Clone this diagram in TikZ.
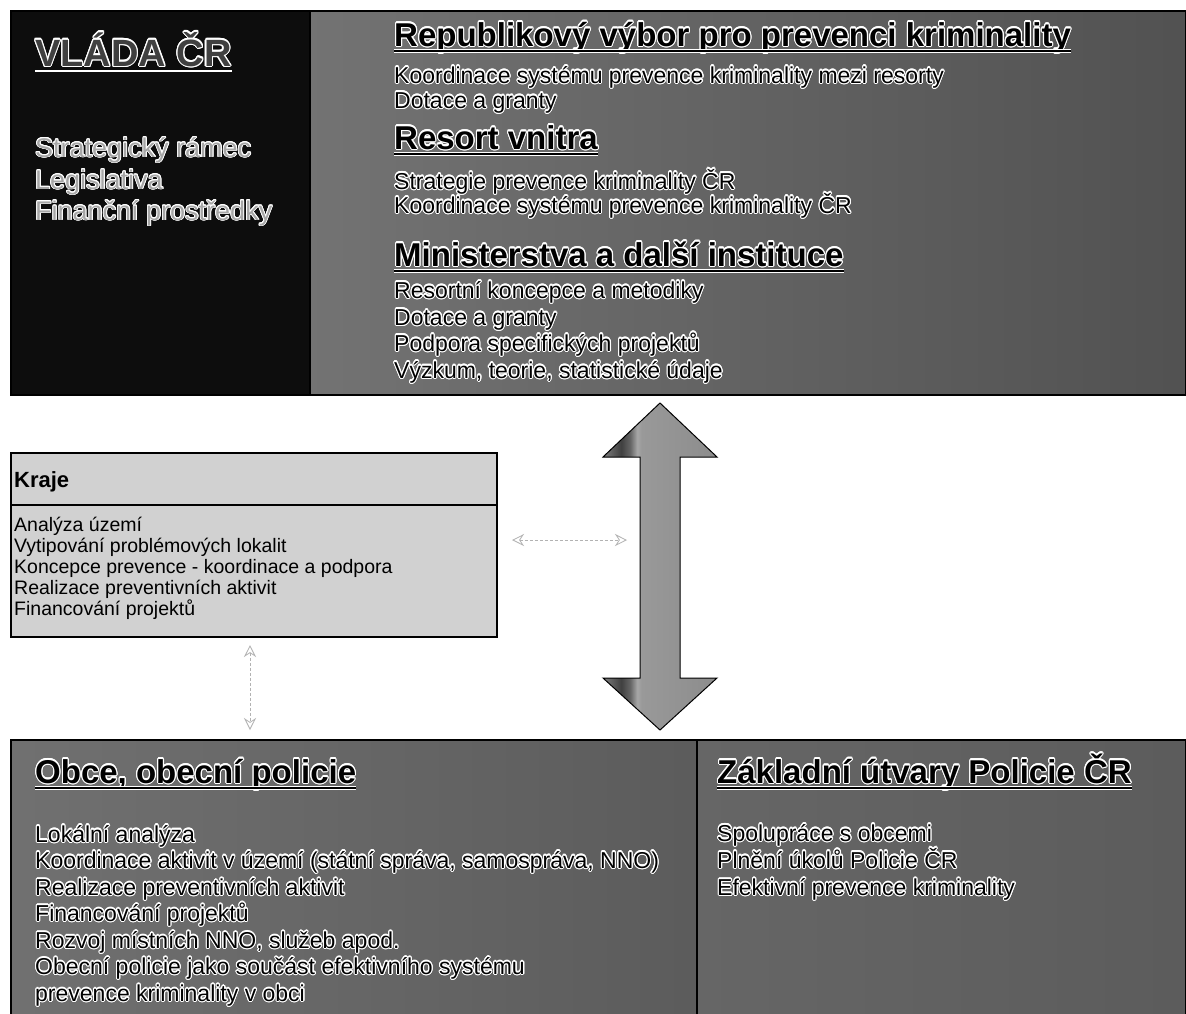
\documentclass[tikz,border=0pt]{standalone}
\usepackage{fontspec}
\setmainfont{Liberation Sans}
\usepackage{contour}
\contourlength{1.1pt}
\contournumber{16}
\usetikzlibrary{calc,arrows.meta}

\pgfdeclarehorizontalshading{bigarrowshade}{100bp}{color(0bp)=(black!50); color(25bp)=(black!50); color(33bp)=(black!75); color(37bp)=(black!60); color(40bp)=(black!35); color(42bp)=(black!40); color(75bp)=(black!45); color(100bp)=(black!45)}

\newcommand\halo[1]{\contour{white}{#1}}

\tikzset{
  panel/.style={draw=black, line width=1.5pt, inner sep=0pt, outer sep=0pt, anchor=north west},
  bandframe/.style={draw=black, line width=2.5pt, inner sep=0pt, outer sep=0pt, anchor=north west},
  headtxt/.style={anchor=base west, inner sep=0pt, font=\fontsize{33}{38}\selectfont\bfseries},
  itemtxt/.style={anchor=base west, inner sep=0pt, font=\fontsize{23}{26}\selectfont},
  lefttxt/.style={anchor=base west, inner sep=0pt, text=black!35, font=\fontsize{27}{31}\selectfont},
  krajetxt/.style={anchor=base west, inner sep=0pt, font=\fontsize{19.5}{22}\selectfont},
  ulhalo/.style={draw=white, line width=4.5pt},
  ulline/.style={draw=black, line width=2pt},
  faint/.style={draw=black!30, line width=0.8pt, dash pattern=on 3pt off 2pt,
    {Stealth[open,length=12pt,width=12pt]}-{Stealth[open,length=12pt,width=12pt]}},
  bigarrow/.style={draw=black, line width=1pt, shading=bigarrowshade}
}

\newcommand\ulnode[1]{%
  \draw[ulhalo] ([yshift=-5pt]#1.base west) -- ([yshift=-5pt]#1.base east);
  \draw[ulline] ([yshift=-5pt]#1.base west) -- ([yshift=-5pt]#1.base east);}

\begin{document}
\begin{tikzpicture}[x=1pt,y=-1pt]
\useasboundingbox (0,0) rectangle (1186,1013);
\fill[white] (0,0) rectangle (1186,1013);

% ---------- top band ----------
\node[panel, fill=black!95, minimum width=299pt, minimum height=384pt] (vlada) at (11,11) {};
\node[panel, left color=black!55, right color=black!68, minimum width=876pt, minimum height=384pt] (rvpk) at (310,11) {};

\node[headtxt, font=\fontsize{38}{42}\selectfont\bfseries, text=black!75] (vladat) at (35,66) {\contour{white}{VLÁDA ČR}};
\draw[draw=white, line width=2.5pt] ([yshift=-5pt]vladat.base west) -- ([yshift=-5pt]vladat.base east);
\node[lefttxt] (v1) at (35,157) {\contourlength{0.8pt}\contour{white}{Strategický rámec}};
\node[lefttxt] (v2) at (35,189) {\contourlength{0.8pt}\contour{white}{Legislativa}};
\node[lefttxt] (v3) at (35,220) {\contourlength{0.8pt}\contour{white}{Finanční prostředky}};

\node[headtxt] (r1) at (394,46) {\halo{Republikový výbor pro prevenci kriminality}};
\node[itemtxt] (r2) at (394,83) {\halo{Koordinace systému prevence kriminality mezi resorty}};
\node[itemtxt] (r3) at (394,108) {\halo{Dotace a granty}};
\node[headtxt] (r4) at (394,149) {\halo{Resort vnitra}};
\node[itemtxt] (r5) at (394,189) {\halo{Strategie prevence kriminality ČR}};
\node[itemtxt] (r6) at (394,213) {\halo{Koordinace systému prevence kriminality ČR}};
\node[headtxt] (r7) at (394,266) {\halo{Ministerstva a další instituce}};
\node[itemtxt] (r8) at (394,298) {\halo{Resortní koncepce a metodiky}};
\node[itemtxt] (r9) at (394,325) {\halo{Dotace a granty}};
\node[itemtxt] (r10) at (394,351) {\halo{Podpora specifických projektů}};
\node[itemtxt] (r11) at (394,378) {\halo{Výzkum, teorie, statistické údaje}};
\ulnode{r1}
\ulnode{r4}
\ulnode{r7}

% ---------- Kraje ----------
\node[panel, fill=black!18, minimum width=486pt, minimum height=184pt] (kraje) at (11,453) {};
\draw[black, line width=1.5pt] (kraje.west |- 0,505) -- (kraje.east |- 0,505);
\node[anchor=base west, inner sep=0pt, font=\fontsize{22}{26}\selectfont\bfseries] (krajet) at (14,487) {Kraje};
\node[krajetxt] (k1) at (14,531) {Analýza území};
\node[krajetxt] (k2) at (14,552) {Vytipování problémových lokalit};
\node[krajetxt] (k3) at (14,573) {Koncepce prevence - koordinace a podpora};
\node[krajetxt] (k4) at (14,594) {Realizace preventivních aktivit};
\node[krajetxt] (k5) at (14,615) {Financování projektů};

% ---------- bottom band ----------
\node[bandframe, left color=black!56, right color=black!64, minimum width=686pt, minimum height=280pt] (obce) at (11,740) {};
\node[bandframe, left color=black!60, right color=black!64, minimum width=489pt, minimum height=280pt] (utvary) at (697,740) {};

\node[headtxt] (o0) at (35,783) {\halo{Obce, obecní policie}};
\ulnode{o0}
\node[itemtxt] (o1) at (35,842) {\halo{Lokální analýza}};
\node[itemtxt] (o2) at (35,868) {\halo{Koordinace aktivit v území (státní správa, samospráva, NNO)}};
\node[itemtxt] (o3) at (35,895) {\halo{Realizace preventivních aktivit}};
\node[itemtxt] (o4) at (35,921) {\halo{Financování projektů}};
\node[itemtxt] (o5) at (35,948) {\halo{Rozvoj místních NNO, služeb apod.}};
\node[itemtxt] (o6) at (35,974) {\halo{Obecní policie jako součást efektivního systému}};
\node[itemtxt] (o7) at (35,1001) {\halo{prevence kriminality v obci}};

\node[headtxt] (u0) at (717,783) {\halo{Základní útvary Policie ČR}};
\ulnode{u0}
\node[itemtxt] (u1) at (717,841) {\halo{Spolupráce s obcemi}};
\node[itemtxt] (u2) at (717,868) {\halo{Plnění úkolů Policie ČR}};
\node[itemtxt] (u3) at (717,895) {\halo{Efektivní prevence kriminality}};

% ---------- big double arrow ----------
\coordinate (atop) at (660,403);
\coordinate (abot) at (660,730);
\path[bigarrow] (atop) -- ($(atop)+(57,54)$) -- ($(atop)+(20,54)$) -- ($(abot)+(20,-52)$) -- ($(abot)+(57,-52)$)
  -- (abot) -- ($(abot)+(-57,-52)$) -- ($(abot)+(-20,-52)$) -- ($(atop)+(-20,54)$) -- ($(atop)+(-57,54)$) -- cycle;

% ---------- faint arrows ----------
\coordinate (fh1) at (512,540);
\coordinate (fh2) at (627,540);
\draw[faint] (fh1) -- (fh2);
\coordinate (fv1) at (250,645);
\coordinate (fv2) at (250,730);
\draw[faint] (fv1) -- (fv2);
\end{tikzpicture}
\end{document}
